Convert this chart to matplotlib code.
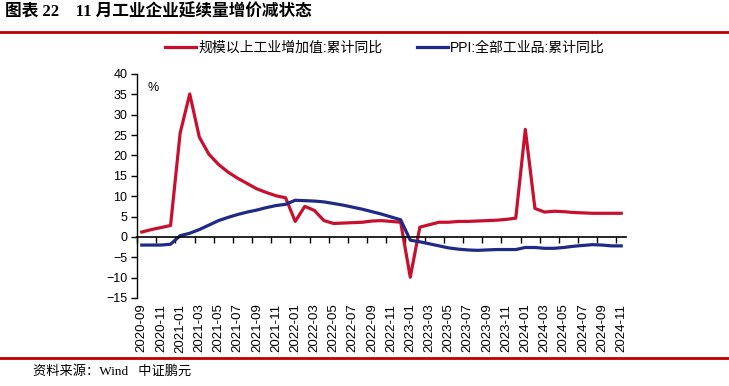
import numpy as np
import matplotlib
matplotlib.use("Agg")
import matplotlib.pyplot as plt
from matplotlib.lines import Line2D

plt.rcParams['font.family'] = ['Liberation Sans', 'Noto Sans CJK SC', 'DejaVu Sans']

# monthly categories 2020-09 .. 2024-11
months = [f"{y}-{m:02d}" for y in range(2020, 2025) for m in range(1, 13)]
months = months[months.index("2020-09"):months.index("2024-11") + 1]

# 规模以上工业增加值:累计同比 (%)
ind_value = [1.2, 1.8, 2.3, 2.8,
             25.5, 35.1, 24.5, 20.3, 17.8, 15.9, 14.4, 13.1, 11.8, 10.9, 10.1, 9.6,
             3.8, 7.5, 6.5, 4.0, 3.3, 3.4, 3.5, 3.6, 3.9, 4.0, 3.8, 3.6,
             -9.9, 2.4, 3.0, 3.6, 3.6, 3.8, 3.8, 3.9, 4.0, 4.1, 4.3, 4.6,
             26.4, 7.0, 6.1, 6.3, 6.2, 6.0, 5.9, 5.8, 5.8, 5.8, 5.8]

# PPI:全部工业品:累计同比 (%)
ppi = [-2.0, -2.0, -2.0, -1.8,
       0.3, 0.9, 1.8, 2.9, 4.0, 4.8, 5.5, 6.1, 6.6, 7.2, 7.7, 8.0,
       9.0, 8.9, 8.8, 8.6, 8.2, 7.8, 7.3, 6.8, 6.2, 5.6, 4.9, 4.2,
       -0.8, -1.2, -1.7, -2.2, -2.7, -3.0, -3.2, -3.3, -3.2, -3.1, -3.1, -3.1,
       -2.6, -2.6, -2.8, -2.8, -2.6, -2.3, -2.1, -1.9, -2.0, -2.2, -2.2]

red = '#C8102E'
blue = '#1F2A86'
x = np.arange(len(months))

fig = plt.figure(figsize=(7.29, 3.86), dpi=100)

# header / footer
fig.text(0.007, 0.968, "图表 22    11 月工业企业延续量增价减状态", fontsize=12, fontweight='bold',
         family=['Liberation Serif', 'Noto Sans CJK SC'], va='center', ha='left')
fig.add_artist(Line2D([0, 1], [1 - 31.5 / 386] * 2, color='#C00000', lw=2))
fig.add_artist(Line2D([0, 1], [1 - 358 / 386] * 2, color='#C00000', lw=2))
fig.text(0.045, 1 - 371 / 386, "资料来源：Wind   中证鹏元", fontsize=9.5,
         family=['Liberation Serif', 'Noto Sans CJK SC'], va='center', ha='left')

ax = fig.add_axes([137 / 729, 1 - 298 / 386, 489 / 729, 224 / 386])
ax.plot(x, ind_value, color=red, lw=2.3, label='规模以上工业增加值:累计同比')
ax.plot(x, ppi, color=blue, lw=2.3, label='PPI:全部工业品:累计同比')

ax.set_xlim(-0.5, len(months) - 0.5)
ax.set_ylim(-15, 40)
ax.set_yticks(np.arange(-15, 41, 5))
ax.tick_params(axis='y', direction='out', length=4, width=1, labelsize=9, pad=3)

for s in ['top', 'right']:
    ax.spines[s].set_visible(False)
ax.spines['left'].set_linewidth(1)
ax.spines['bottom'].set_position(('data', 0))
ax.spines['bottom'].set_linewidth(1.2)
ax.set_xticks(np.arange(-0.5, len(months), 2))
ax.tick_params(axis='x', direction='out', length=4, width=1, labelbottom=False)

sec = ax.secondary_xaxis(0.0)
sec.set_xticks(x[::2], months[::2], rotation=90)
sec.tick_params(length=0, labelsize=9.5, pad=4)
sec.spines['bottom'].set_visible(False)

ax.text(0.022, 0.965, '%', transform=ax.transAxes, fontsize=9, va='top', ha='left')

fig.legend(loc='center', bbox_to_anchor=(0.528, 1 - 48 / 386), ncol=2, frameon=False,
           fontsize=10, handlelength=2.2, handletextpad=0.15, columnspacing=2.5)

fig.savefig('out.png', dpi=100)
